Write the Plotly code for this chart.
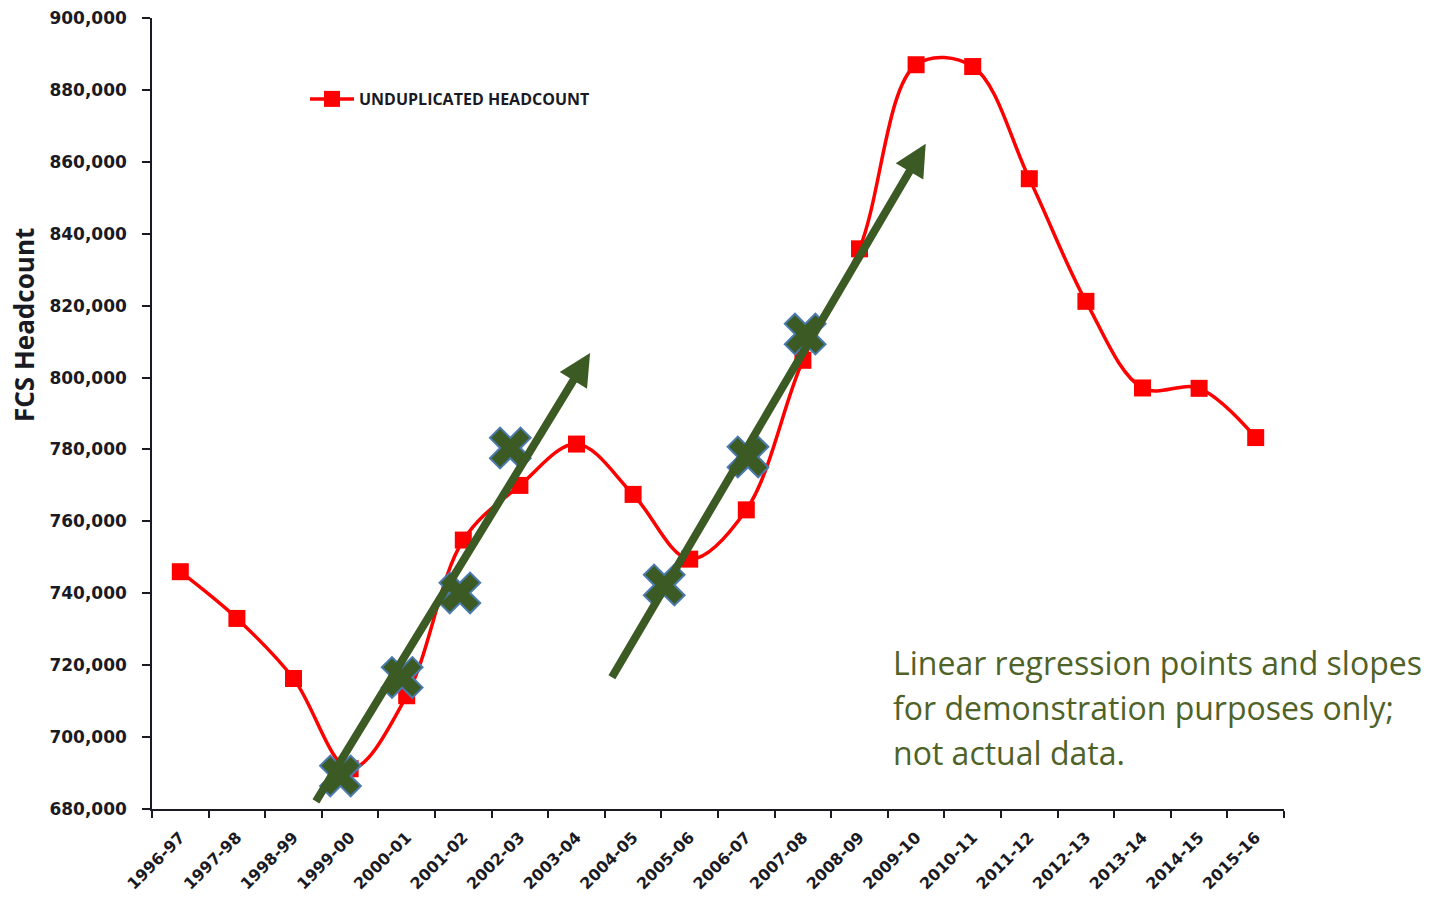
import plotly.graph_objects as go

# ── Data ────────────────────────────────────────────────────────────────────
years = [
    "1996-97", "1997-98", "1998-99", "1999-00", "2000-01", "2001-02", "2002-03",
    "2003-04", "2004-05", "2005-06", "2006-07", "2007-08", "2008-09", "2009-10",
    "2010-11", "2011-12", "2012-13", "2013-14", "2014-15", "2015-16",
]
headcount = [
    746000, 733000, 716300, 691200, 711500, 754800, 770000,
    781500, 767500, 749500, 763200, 804800, 835800, 887000,
    886500, 855300, 821200, 797100, 797000, 783300,
]

# demonstration regression points (fractional year index, value)
reg_x = [2.83, 3.92, 4.94, 5.83, 8.55, 10.03, 11.04]
reg_y = [689200, 716600, 740100, 780400, 742300, 777900, 812100]

# slope arrows: tail -> head, in (year index, value)
slope_tail_x = [2.38, 7.61]
slope_tail_y = [681700, 716200]
slope_head_x = [7.24, 13.17]
slope_head_y = [806800, 865000]

y_ticks = list(range(680000, 900001, 20000))

note_lines = [
    "Linear regression points and slopes",
    "for demonstration purposes only;",
    "not actual data.",
]

INK = "#1A1A24"
RED = "#FF0000"
OLIVE = "#3C5A24"
NOTE = "#4F6228"
FONT = '"Open Sans", "DejaVu Sans", sans-serif'
TICK_FONT = '"DejaVu Sans", sans-serif'

# page body adds an 8px offset; margins are shifted to compensate
OFF = 8
PLOT_L, PLOT_R, PLOT_T, PLOT_B = 152, 1284, 18, 809
PW, PH = PLOT_R - PLOT_L, PLOT_B - PLOT_T

xs = list(range(len(years)))
boundaries = [i - 0.5 for i in range(len(years) + 1)]

fig = go.Figure()

fig.add_trace(go.Scatter(
    x=xs, y=headcount, name="<b>UNDUPLICATED HEADCOUNT</b>",
    mode="lines+markers",
    line=dict(color=RED, width=3.5, shape="spline", smoothing=1),
    marker=dict(symbol="square", size=17, color=RED),
))

fig.add_trace(go.Scatter(
    x=reg_x, y=reg_y, mode="markers", showlegend=False,
    marker=dict(symbol="x", size=36, color=OLIVE,
                line=dict(color="#4A7AAE", width=2)),
))

for tx, ty, hx, hy in zip(slope_tail_x, slope_tail_y, slope_head_x, slope_head_y):
    fig.add_annotation(
        x=hx, y=hy, ax=tx, ay=ty, xref="x", yref="y", axref="x", ayref="y",
        text="", showarrow=True, arrowhead=2, arrowsize=0.8,
        arrowwidth=8, arrowcolor=OLIVE, standoff=0,
    )

# note, one line per annotation so the line pitch matches (45px)
for i, line in enumerate(note_lines):
    fig.add_annotation(
        text=line, xref="paper", yref="paper",
        x=(891 - PLOT_L) / PW, y=(PLOT_B - (662 + 45 * i)) / PH,
        xanchor="left", yanchor="middle", align="left", showarrow=False,
        font=dict(family=FONT, size=32, color=NOTE),
    )

fig.add_annotation(
    text="<b>FCS Headcount</b>", textangle=-90,
    xref="paper", yref="paper", x=-(PLOT_L - 24) / PW, y=(PLOT_B - 325) / PH,
    xanchor="center", yanchor="middle", showarrow=False,
    font=dict(family=FONT, size=26, color=INK),
)

fig.update_layout(
    width=1437, height=898,
    margin=dict(l=PLOT_L - OFF, r=1437 - PLOT_R + OFF, t=PLOT_T - OFF, b=898 - PLOT_B + OFF),
    paper_bgcolor="white", plot_bgcolor="white",
    font=dict(family=FONT, color=INK),
    legend=dict(
        x=(305 - PLOT_L) / PW, y=(PLOT_B - 99) / PH, xanchor="left", yanchor="middle",
        bgcolor="rgba(0,0,0,0)", font=dict(size=16, color=INK), itemwidth=44,
    ),
    xaxis=dict(
        range=[-0.5, len(years) - 0.5], tickmode="array", tickvals=xs,
        ticktext=[f"<b>{y}</b>" for y in years], tickangle=-45,
        tickfont=dict(family=TICK_FONT, size=16, color=INK), ticks="",
        ticklabelstandoff=11, automargin=False, ticklabeloverflow="allow",
        showline=True, linecolor=INK, linewidth=1.5, showgrid=False, zeroline=False,
        minor=dict(tickmode="array", tickvals=boundaries, ticks="outside",
                   ticklen=7, tickcolor=INK, tickwidth=1.5, showgrid=False),
    ),
    yaxis=dict(
        range=[680000, 900000], tickmode="array", tickvals=y_ticks,
        ticktext=[f"<b>{v:,}</b>" for v in y_ticks],
        tickfont=dict(family=TICK_FONT, size=17, color=INK), ticks="outside", ticklen=8,
        tickcolor=INK, tickwidth=1.5, ticklabelstandoff=12, automargin=False,
        ticklabeloverflow="allow",
        showline=True, linecolor=INK, linewidth=1.5, showgrid=False, zeroline=False,
    ),
)

fig.write_html("out.html")
